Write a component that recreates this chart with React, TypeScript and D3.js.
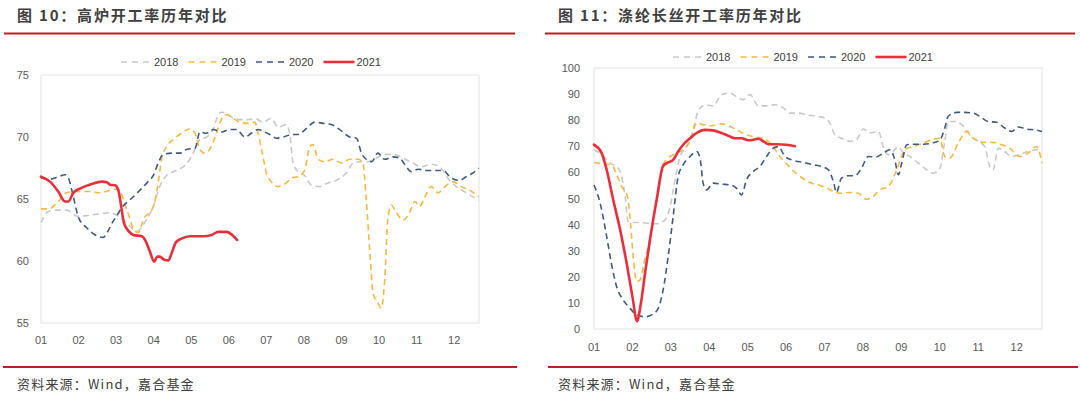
import React from "react";
import * as d3 from "d3";

// ---------- data (month offset from Jan start, value) ----------
const monthLabels = ["01", "02", "03", "04", "05", "06", "07", "08", "09", "10", "11", "12"];
const years = ["2018", "2019", "2020", "2021"];

const blastTicks = [55, 60, 65, 70, 75];
const polyTicks = [0, 10, 20, 30, 40, 50, 60, 70, 80, 90, 100];

type P = [number, number];

const blast2018: P[] = [
  [0, 63.1], [0.2, 64.0], [0.42, 64.1], [0.68, 64.1], [0.99, 63.6], [1.3, 63.7], [1.57, 63.8], [1.84, 63.9],
  [2.06, 63.6], [2.3, 63.0], [2.55, 62.4], [2.8, 63.3], [2.99, 64.4], [3.16, 66.0], [3.34, 66.9], [3.52, 67.2],
  [3.74, 67.5], [3.87, 67.8], [4.05, 68.7], [4.23, 69.8], [4.41, 70.0], [4.58, 70.6], [4.72, 71.8], [4.8, 72.0],
  [4.94, 71.9], [5.12, 71.5], [5.29, 71.4], [5.51, 71.4], [5.69, 71.5], [5.91, 71.2], [6.13, 71.5], [6.31, 70.8],
  [6.53, 71.0], [6.62, 70.3], [6.71, 67.9], [6.84, 67.2], [7.02, 66.9], [7.2, 66.1], [7.42, 66.0], [7.64, 66.3],
  [7.86, 66.5], [8.13, 67.1], [8.31, 67.9], [8.48, 68.0], [8.66, 68.0], [8.93, 68.3], [9.15, 68.6], [9.37, 68.6],
  [9.64, 68.3], [9.9, 67.9], [10.12, 67.6], [10.39, 67.8], [10.61, 67.6], [10.88, 66.5], [11.06, 66.0],
  [11.32, 65.5], [11.65, 64.9],
];
const blast2019: P[] = [
  [0, 64.2], [0.2, 64.2], [0.46, 64.8], [0.68, 65.5], [0.95, 65.6], [1.3, 65.6], [1.57, 65.5], [1.84, 65.7],
  [2.05, 65.8], [2.3, 64.0], [2.5, 62.4], [2.6, 62.3], [2.72, 63.3], [2.99, 64.4], [3.12, 66.3], [3.21, 68.2],
  [3.34, 69.2], [3.52, 69.8], [3.74, 70.3], [3.96, 70.65], [4.1, 70.3], [4.23, 69.0], [4.36, 68.7], [4.49, 69.0],
  [4.67, 70.3], [4.8, 71.4], [4.94, 71.8], [5.12, 71.5], [5.29, 71.2], [5.51, 71.1], [5.69, 71.2], [5.78, 70.3],
  [5.91, 68.4], [6.0, 67.1], [6.13, 66.4], [6.31, 66.0], [6.53, 66.3], [6.67, 66.7], [6.84, 66.8], [7.02, 67.3],
  [7.15, 69.2], [7.24, 69.4], [7.38, 68.2], [7.55, 68.0], [7.77, 68.2], [8.0, 67.9], [8.22, 68.2], [8.44, 68.2],
  [8.57, 67.9], [8.66, 64.9], [8.75, 60.9], [8.84, 57.4], [8.97, 56.6], [9.06, 56.2], [9.15, 58.5], [9.24, 63.6],
  [9.33, 64.5], [9.46, 63.9], [9.64, 63.3], [9.81, 63.9], [9.95, 64.8], [10.08, 64.4], [10.21, 65.1],
  [10.39, 66.0], [10.57, 65.5], [10.79, 66.1], [10.97, 66.4], [11.19, 66.0], [11.41, 65.7], [11.65, 65.2],
];
const blast2020: P[] = [
  [0, 66.7], [0.24, 66.6], [0.46, 66.8], [0.64, 66.95], [0.73, 66.7], [0.82, 65.7], [1.0, 63.5], [1.21, 62.7],
  [1.44, 62.1], [1.65, 61.9], [1.78, 62.4], [1.9, 63.1], [2.01, 63.6], [2.15, 64.3], [2.32, 64.8], [2.5, 65.3],
  [2.63, 65.7], [2.85, 66.4], [2.99, 66.9], [3.12, 67.9], [3.25, 68.6], [3.48, 68.7], [3.7, 68.7], [3.87, 69.0],
  [4.1, 69.1], [4.23, 70.4], [4.41, 70.3], [4.58, 70.6], [4.8, 70.4], [5.03, 70.6], [5.2, 70.6], [5.43, 70.0],
  [5.6, 70.3], [5.78, 70.6], [5.96, 70.4], [6.09, 70.2], [6.27, 69.9], [6.45, 70.0], [6.67, 70.2], [6.84, 70.2],
  [7.07, 70.7], [7.29, 71.2], [7.51, 71.1], [7.73, 71.0], [7.95, 70.6], [8.22, 70.0], [8.4, 69.9], [8.53, 68.7],
  [8.66, 68.2], [8.8, 68.0], [8.97, 68.7], [9.15, 68.2], [9.37, 68.4], [9.55, 68.3], [9.68, 67.8], [9.86, 67.2],
  [10.04, 67.4], [10.26, 67.3], [10.48, 67.3], [10.7, 67.3], [10.92, 66.7], [11.15, 66.5], [11.32, 66.8],
  [11.5, 67.1], [11.65, 67.5],
];
const blast2021: P[] = [
  [0, 66.8], [0.24, 66.4], [0.46, 65.6], [0.64, 64.8], [0.73, 64.8], [0.86, 65.5], [1.08, 65.9], [1.35, 66.2],
  [1.61, 66.4], [1.75, 66.35], [1.84, 66.15], [1.97, 66.1], [2.06, 65.7], [2.12, 64.7], [2.21, 63.05],
  [2.32, 62.45], [2.46, 62.1], [2.68, 62.0], [2.78, 61.65], [2.9, 60.75], [3.01, 59.95], [3.1, 60.35],
  [3.16, 60.35], [3.28, 60.1], [3.39, 60.05], [3.48, 60.65], [3.59, 61.5], [3.74, 61.8], [3.96, 62.0],
  [4.32, 62.0], [4.54, 62.1], [4.72, 62.35], [4.94, 62.35], [5.07, 62.15], [5.22, 61.7],
];

const poly2018: P[] = [
  [0, 68.7], [0.2, 66.8], [0.42, 63.6], [0.63, 61.6], [0.72, 58.4], [0.81, 50.8], [0.89, 41.2], [1.02, 40.8],
  [1.2, 40.8], [1.41, 40.5], [1.63, 40.3], [1.85, 41.8], [1.98, 46.9], [2.11, 57.2], [2.24, 66.1], [2.41, 69.9],
  [2.58, 76.3], [2.71, 83.4], [2.89, 85.9], [3.1, 85.5], [3.32, 89.8], [3.54, 90.4], [3.76, 88.5], [3.89, 87.9],
  [4.06, 89.8], [4.28, 85.5], [4.49, 85.5], [4.71, 85.9], [4.93, 84.7], [5.1, 82.7], [5.32, 82.7], [5.53, 82.1],
  [5.79, 81.5], [6.01, 80.8], [6.14, 78.9], [6.27, 74.4], [6.44, 73.1], [6.66, 71.9], [6.83, 72.5], [7.01, 76.6],
  [7.18, 75.1], [7.4, 75.7], [7.53, 69.9], [7.66, 66.8], [7.79, 68.0], [7.92, 69.9], [8.05, 67.4], [8.22, 66.1],
  [8.44, 63.6], [8.66, 61.0], [8.83, 59.7], [9.0, 61.6], [9.13, 71.9], [9.22, 79.5], [9.39, 79.5], [9.57, 78.3],
  [9.78, 74.4], [10.0, 71.9], [10.17, 69.9], [10.3, 62.3], [10.39, 61.0], [10.52, 69.3], [10.69, 68.0],
  [10.87, 66.1], [11.08, 66.8], [11.3, 68.0], [11.52, 68.7], [11.66, 68.7],
];
const poly2019: P[] = [
  [0, 63.8], [0.24, 63.3], [0.46, 62.9], [0.59, 59.1], [0.72, 54.6], [0.87, 50.8], [0.95, 40.5], [1.02, 27.7],
  [1.11, 18.2], [1.2, 18.8], [1.3, 25.2], [1.41, 31.6], [1.54, 41.8], [1.67, 52.0], [1.8, 62.9], [1.98, 66.1],
  [2.15, 67.4], [2.32, 68.7], [2.5, 71.9], [2.67, 78.9], [2.84, 78.3], [3.06, 77.9], [3.32, 78.6], [3.54, 77.6],
  [3.71, 76.3], [3.97, 74.4], [4.23, 73.5], [4.41, 73.1], [4.62, 70.6], [4.84, 66.1], [5.06, 62.5], [5.27, 59.5],
  [5.49, 57.2], [5.66, 55.9], [5.88, 55.0], [6.05, 54.0], [6.23, 52.7], [6.4, 52.0], [6.66, 52.3], [6.88, 52.0],
  [7.09, 49.7], [7.27, 50.8], [7.44, 53.3], [7.66, 54.6], [7.88, 61.0], [8.09, 68.7], [8.31, 69.9], [8.57, 71.2],
  [8.79, 72.5], [9.0, 73.1], [9.13, 66.1], [9.26, 65.5], [9.48, 71.2], [9.7, 75.7], [9.87, 73.1], [10.13, 71.5],
  [10.39, 71.5], [10.61, 70.6], [10.82, 69.3], [11.08, 66.1], [11.3, 67.4], [11.52, 69.9], [11.66, 63.6],
];
const poly2020: P[] = [
  [0, 55.2], [0.16, 48.2], [0.33, 35.4], [0.46, 24.6], [0.59, 16.2], [0.76, 11.1], [0.94, 7.9], [1.11, 5.4],
  [1.33, 4.7], [1.5, 5.4], [1.67, 7.9], [1.8, 15.0], [1.93, 27.7], [2.06, 43.1], [2.19, 58.4], [2.32, 62.9],
  [2.5, 66.1], [2.67, 68.0], [2.76, 65.5], [2.84, 55.9], [2.93, 53.3], [3.1, 55.9], [3.32, 55.5], [3.54, 55.2],
  [3.71, 53.9], [3.84, 51.4], [3.97, 57.2], [4.15, 60.4], [4.32, 62.3], [4.49, 66.1], [4.67, 69.3], [4.8, 69.9],
  [4.97, 66.1], [5.19, 64.6], [5.45, 63.8], [5.71, 62.9], [5.92, 62.3], [6.1, 61.0], [6.23, 56.5], [6.31, 52.3],
  [6.44, 57.8], [6.62, 58.7], [6.79, 58.7], [6.96, 61.6], [7.14, 66.1], [7.35, 65.9], [7.53, 67.4], [7.7, 68.7],
  [7.83, 64.8], [7.92, 59.1], [8.01, 63.6], [8.14, 70.6], [8.35, 70.8], [8.57, 70.8], [8.79, 71.2], [9.0, 72.3],
  [9.13, 77.0], [9.22, 81.5], [9.44, 83.0], [9.65, 83.0], [9.87, 82.7], [10.04, 81.5], [10.26, 79.5],
  [10.48, 79.2], [10.69, 77.0], [10.87, 75.7], [11.04, 77.4], [11.26, 76.6], [11.47, 76.3], [11.66, 75.7],
];
const poly2021: P[] = [
  [0, 70.6], [0.2, 67.4], [0.33, 61.0], [0.5, 49.5], [0.68, 38.0], [0.85, 25.2], [1.0, 12.4], [1.12, 3.0],
  [1.22, 9.8], [1.34, 22.6], [1.47, 35.4], [1.63, 49.5], [1.8, 62.5], [1.93, 63.8], [2.06, 64.8], [2.19, 68.0],
  [2.32, 70.6], [2.5, 73.1], [2.67, 75.1], [2.89, 76.3], [3.1, 76.1], [3.32, 75.1], [3.5, 74.0], [3.67, 73.1],
  [3.84, 73.1], [4.02, 72.3], [4.15, 72.5], [4.28, 72.9], [4.41, 71.9], [4.54, 70.8], [4.75, 70.8], [5.01, 70.6],
  [5.23, 70.0],
];

// ---------- styling ----------
const COLORS = ["#c9c9c9", "#f9b940", "#3e5a82", "#e8303c"];
const DASH = ["6,4", "6,4", "6,4", null];
const LEGEND_DASH = ["6,5", "6,5", "6,5", null];
const WIDTH = [1.6, 1.6, 1.6, 2.6];
const FONT = "'Liberation Sans', Arial, sans-serif";
const CJK = "'Noto Sans CJK SC', sans-serif";

type PanelProps = {
  ox: number;
  title: string;
  series: P[][];
  yDomain: [number, number];
  yTicks: number[];
  plot: { x0: number; x1: number; y0: number; y1: number };
  legendY: number;
  legendX: number;
  yLabelX: number;
  xLabelY: number;
  lineX: [number, number];
  srcLineX: [number, number];
};

function Panel(p: PanelProps) {
  const x = d3.scaleLinear().domain([0, 11.66]).range([p.plot.x0, p.plot.x1]);
  const y = d3.scaleLinear().domain(p.yDomain).range([p.plot.y1, p.plot.y0]);
  const line = d3
    .line<P>()
    .x((d) => x(d[0]))
    .y((d) => y(d[1]))
    .curve(d3.curveMonotoneX);
  return (
    <g>
      <text x={p.ox} y={21} fontFamily={CJK} fontWeight={700} fontSize={15} letterSpacing={1.8} fill="#404040">
        {p.title}
      </text>
      <line x1={p.lineX[0]} x2={p.lineX[1]} y1={33.5} y2={33.5} stroke="#c41a20" strokeWidth={2} />
      <rect
        x={p.plot.x0}
        y={p.plot.y0}
        width={p.plot.x1 - p.plot.x0}
        height={p.plot.y1 - p.plot.y0}
        fill="none"
        stroke="#e3e3e3"
        strokeWidth={1}
      />
      {p.yTicks.map((t) => (
        <text key={t} x={p.yLabelX} y={y(t) + 4} textAnchor="end" fontFamily={FONT} fontSize={11} fill="#595959">
          {t}
        </text>
      ))}
      {monthLabels.map((m, i) => (
        <text key={m} x={x(i)} y={p.xLabelY} textAnchor="middle" fontFamily={FONT} fontSize={11} fill="#595959">
          {m}
        </text>
      ))}
      {p.series.map((s, i) => (
        <path
          key={i}
          d={line(s) || ""}
          fill="none"
          stroke={COLORS[i]}
          strokeWidth={WIDTH[i]}
          strokeDasharray={DASH[i] || undefined}
          strokeLinejoin="round"
          strokeLinecap={DASH[i] ? "butt" : "round"}
        />
      ))}
      {years.map((yr, i) => {
        const lx = p.legendX + i * 67.5;
        return (
          <g key={yr}>
            <line
              x1={lx}
              x2={lx + 31}
              y1={p.legendY}
              y2={p.legendY}
              stroke={COLORS[i]}
              strokeWidth={WIDTH[i]}
              strokeDasharray={LEGEND_DASH[i] || undefined}
            />
            <text x={lx + 33} y={p.legendY + 4} fontFamily={FONT} fontSize={11} fill="#404040">
              {yr}
            </text>
          </g>
        );
      })}
      <line x1={p.srcLineX[0]} x2={p.srcLineX[1]} y1={367} y2={367} stroke="#c41a20" strokeWidth={2} />
      <text x={p.ox} y={389} fontFamily={CJK} fontSize={13} letterSpacing={1.2} fill="#404040">
        资料来源：Wind，嘉合基金
      </text>
    </g>
  );
}

export default function App() {
  return (
    <svg
      width={1080}
      height={400}
      style={{ position: "absolute", left: 0, top: 0, background: "#fff" }}
    >
      <rect width={1080} height={400} fill="#fff" />
      <Panel
        ox={17}
        title="图 10：高炉开工率历年对比"
        series={[blast2018, blast2019, blast2020, blast2021]}
        yDomain={[55, 75]}
        yTicks={blastTicks}
        plot={{ x0: 41, x1: 479, y0: 75, y1: 323 }}
        legendX={121}
        legendY={62}
        yLabelX={29}
        xLabelY={344}
        lineX={[4, 515]}
        srcLineX={[3, 517]}
      />
      <Panel
        ox={558}
        title="图 11：涤纶长丝开工率历年对比"
        series={[poly2018, poly2019, poly2020, poly2021]}
        yDomain={[0, 100]}
        yTicks={polyTicks}
        plot={{ x0: 594, x1: 1042, y0: 68, y1: 329 }}
        legendX={673}
        legendY={57}
        yLabelX={580}
        xLabelY={351}
        lineX={[545, 1075]}
        srcLineX={[548, 1078]}
      />
    </svg>
  );
}
